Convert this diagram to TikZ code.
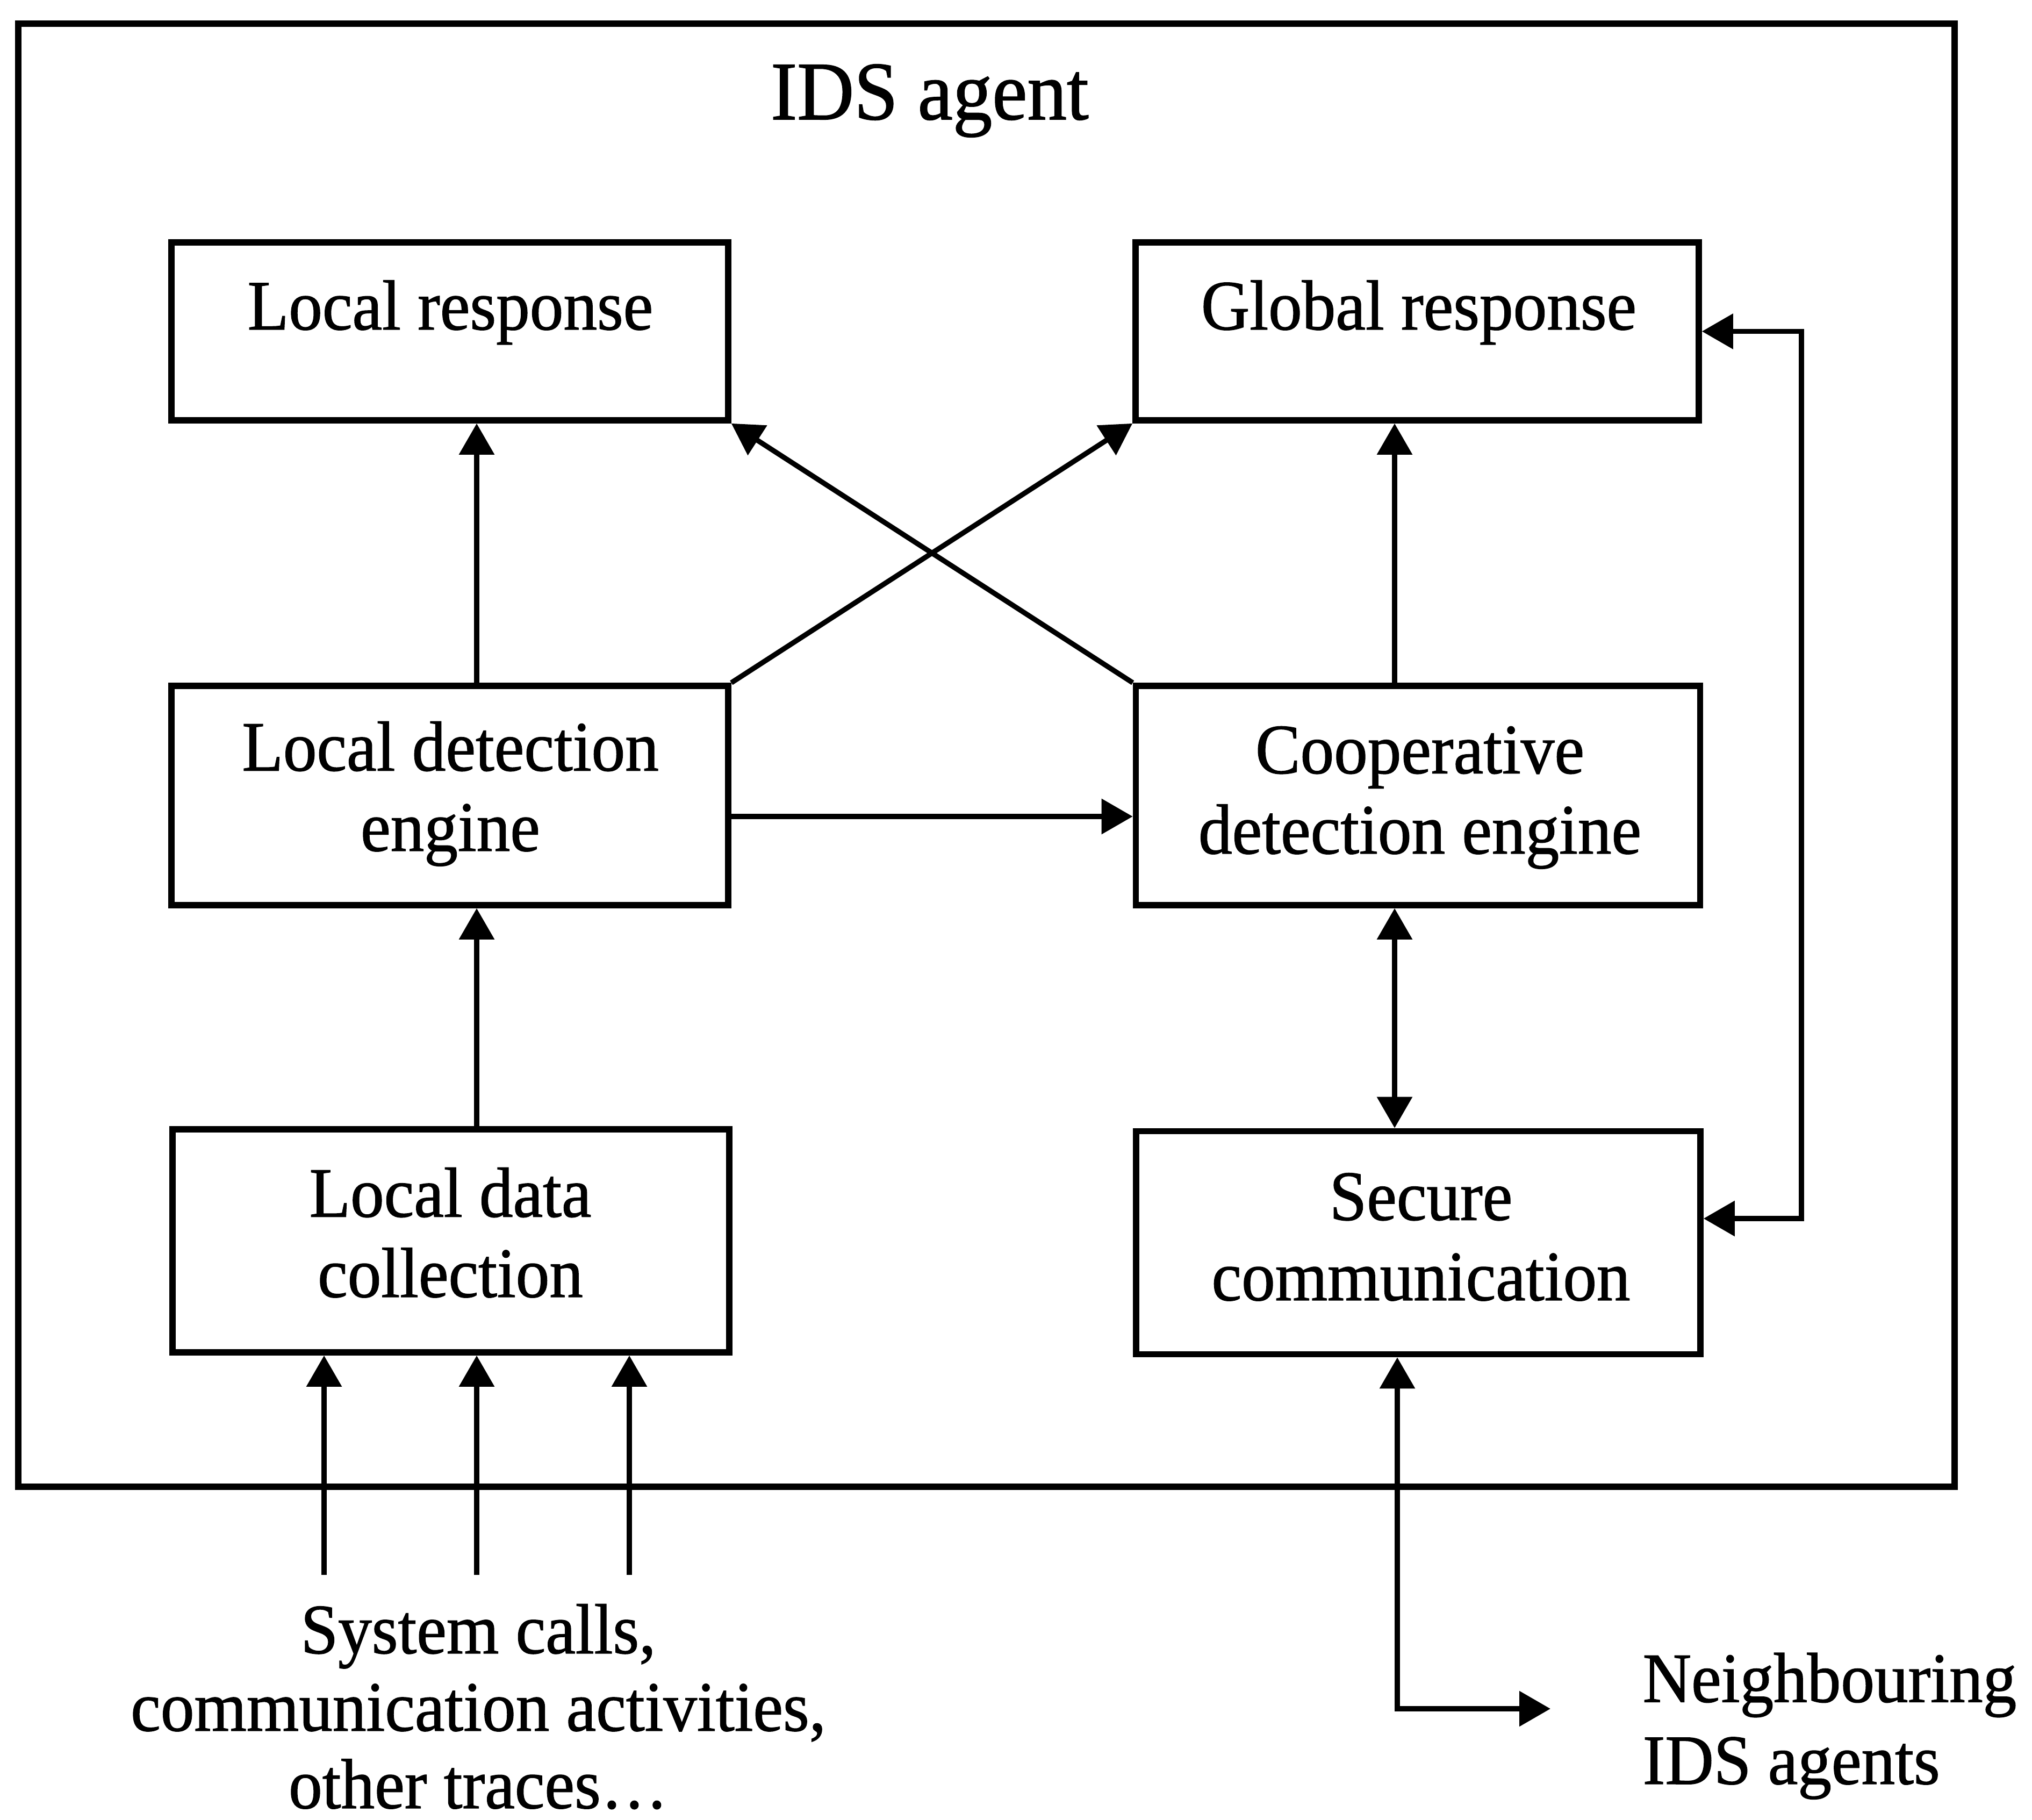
\documentclass[tikz,border=0pt]{standalone}
\usepackage{fontspec}
\setmainfont{Liberation Serif}[FakeStretch=0.95,FakeBold=1]
\usetikzlibrary{arrows.meta,calc}
\begin{document}
\begin{tikzpicture}[
  x=1cm,y=1cm,
  >={Triangle[length=0.58cm,width=0.64cm]},
  box/.style={draw,line width=3.3pt,inner sep=0pt},
  txt/.style={font=\fontsize{37.5}{42.5}\selectfont,align=center,anchor=base,inner sep=0pt},
  conn/.style={line width=2.7pt,->},
]
\useasboundingbox (0,0) rectangle (37.81,-33.86);

% agent frame
\node[box,minimum width=36.03cm,minimum height=27.22cm] (agent) at (18.355,-14.05) {};
\node[txt,font=\fontsize{44}{50}\selectfont] (title) at (17.30,-2.22) {IDS agent};

% components
\node[box,minimum width=10.36cm,minimum height=3.31cm] (lr)  at (8.37,-6.165) {};
\node[box,minimum width=10.48cm,minimum height=3.31cm] (gr)  at (26.37,-6.165) {};
\node[box,minimum width=10.36cm,minimum height=4.08cm] (lde) at (8.37,-14.80) {};
\node[box,minimum width=10.50cm,minimum height=4.08cm] (cde) at (26.385,-14.80) {};
\node[box,minimum width=10.36cm,minimum height=4.15cm] (ldc) at (8.39,-23.085) {};
\node[box,minimum width=10.50cm,minimum height=4.15cm] (sc)  at (26.39,-23.12) {};

% labels (multi-line labels are placed by the baseline of their last line)
\node[txt] (lrt)  at (8.38,-6.13)   {Local response};
\node[txt] (grt)  at (26.40,-6.13)  {Global response};
\node[txt] (ldet) at (8.38,-15.83)  {Local detection\\engine};
\node[txt] (cdet) at (26.42,-15.88) {Cooperative\\detection engine};
\node[txt] (ldct) at (8.38,-24.13)  {Local data\\collection};
\node[txt] (sct)  at (26.44,-24.19) {Secure\\communication};

% helper coordinates for connector positions
\coordinate (xl) at (8.87,0);
\coordinate (xr) at (25.95,0);
\coordinate (xb) at (26.00,0);
\coordinate (lx) at (33.52,0);
\coordinate (yh) at (0,-15.19);
\coordinate (sin) at ($(sc.east)+(0,0.45)$);
\coordinate (nb) at (28.85,-31.79);
\coordinate (i1) at (6.03,-29.30);
\coordinate (i2) at (8.87,-29.30);
\coordinate (i3) at (11.71,-29.30);

% internal flows
\draw[conn] (ldc.north -| xl) -- (lde.south -| xl);
\draw[conn] (lde.north -| xl) -- (lr.south -| xl);
\draw[conn] (cde.north -| xr) -- (gr.south -| xr);
\draw[conn,<->] (cde.south -| xr) -- (sc.north -| xr);
\draw[conn] (lde.east |- yh) -- (cde.west |- yh);
\draw[conn] (lde.north east) -- (gr.south west);
\draw[conn] (cde.north west) -- (lr.south east);
\draw[conn,<->] (gr.east) -- (gr.east -| lx) -- (sin -| lx) -- (sin);

% external inputs and neighbours
\draw[conn] (i1) -- (i1 |- ldc.south);
\draw[conn] (i2) -- (i2 |- ldc.south);
\draw[conn] (i3) -- (i3 |- ldc.south);
\draw[conn,<->] (sc.south -| xb) -- (nb -| xb) -- (nb);

\node[txt,font=\fontsize{37.5}{41}\selectfont] (inputs) at (8.90,-33.64)
  {System calls,\\communication activities,\\other traces…};
\node[txt,align=left,anchor=base west,font=\fontsize{37.5}{43.4}\selectfont] (nbt) at (30.56,-33.19)
  {Neighbouring\\IDS agents};
\end{tikzpicture}
\end{document}
